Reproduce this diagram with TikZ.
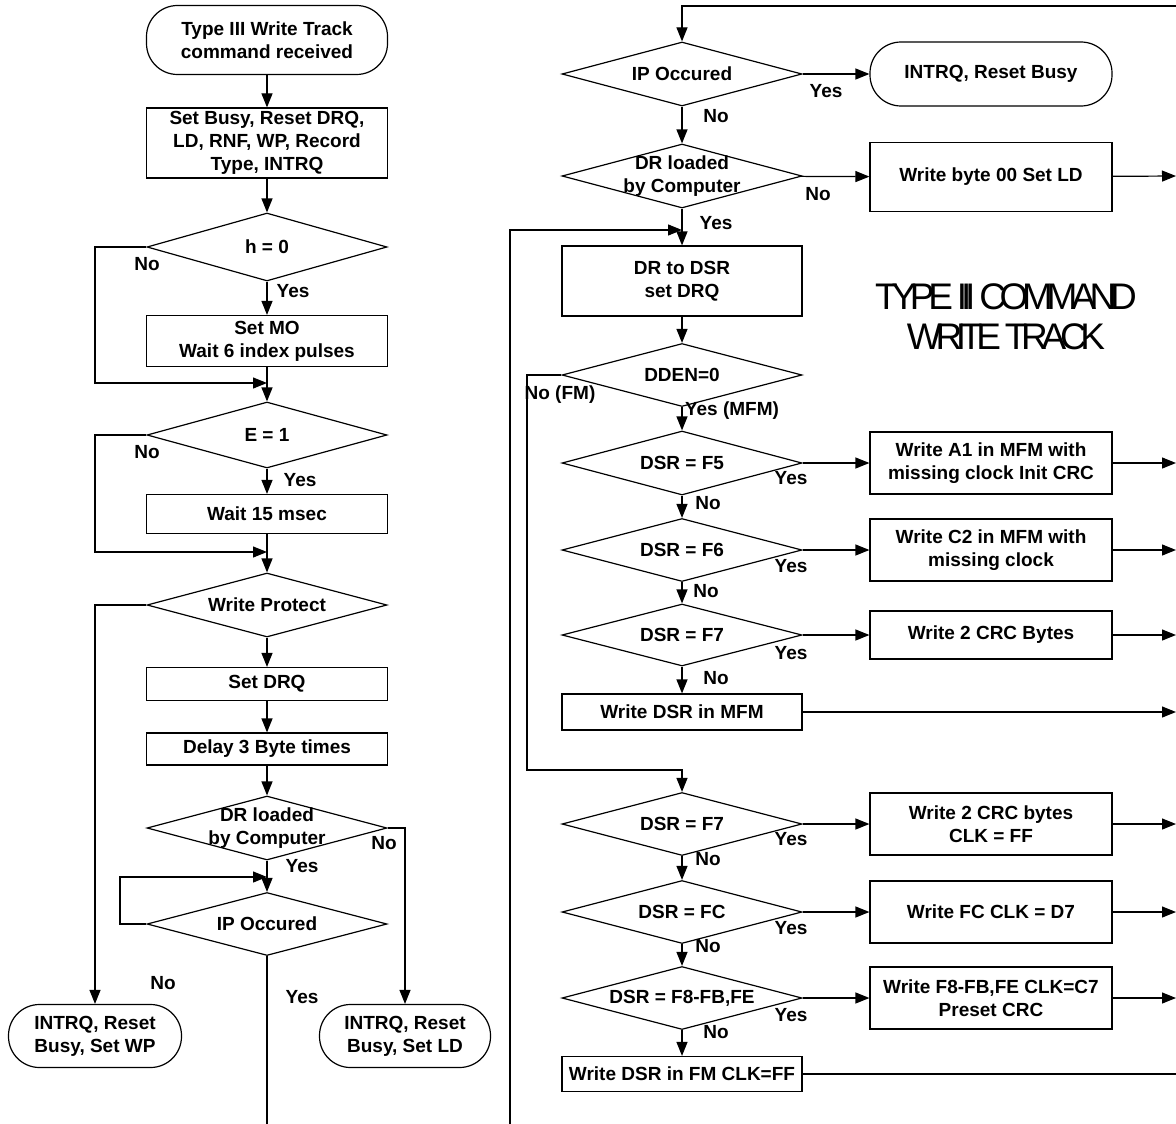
\documentclass[tikz,border=0pt]{standalone}
\usepackage{fontspec}
\setmainfont{Liberation Sans}
\usetikzlibrary{shapes.geometric,arrows.meta}
\tikzset{
  base/.style={draw=black, line width=1.2pt, align=center, inner sep=0pt, font=\bfseries\fontsize{19}{23}\selectfont},
  proc/.style={base, rectangle, minimum width=241pt},
  dec/.style={base, diamond, aspect=3.75, minimum width=240pt},
  dlab/.style={font=\bfseries\fontsize{19}{23}\selectfont, inner sep=0pt, align=center},
  term/.style={base, rectangle, rounded corners=31pt},
  lab/.style={font=\bfseries\fontsize{19}{23}\selectfont, inner sep=0pt},
  conn/.style={line width=1.2pt, draw=black},
  arr/.style={conn, -{Triangle[length=14pt,width=11pt]}},
}
\begin{document}
\begin{tikzpicture}[x=1pt,y=-1pt]
\useasboundingbox (0,0) rectangle (1176,1124);
% ---------- left column ----------
\node[term, minimum width=241pt, minimum height=69pt] (start) at (267,40) {Type III Write Track\\command received};
\node[proc, minimum height=70pt] (busy) at (267,143) {Set Busy, Reset DRQ,\\LD, RNF, WP, Record\\Type, INTRQ};
\node[dec, minimum height=68pt] (h0) at (267,247) {h = 0};
\node[proc, minimum height=51pt] (mo) at (267,341) {Set MO\\Wait 6 index pulses};
\node[dec, minimum height=66pt] (e1) at (267,435) {E = 1};
\node[proc, minimum height=39pt] (w15) at (267,514) {Wait 15 msec};
\node[dec, minimum height=64pt] (wp) at (267,605) {Write Protect};
\node[proc, minimum height=33pt] (drq) at (267,684) {Set DRQ};
\node[proc, minimum height=32pt] (delay) at (267,749) {Delay 3 Byte times};
\node[dec, minimum height=64pt, label={[dlab]center:DR loaded\\by Computer}] (drl) at (267,828) {};
\node[dec, minimum height=63pt] (ip1) at (267,924) {IP Occured};
\node[term, minimum width=173pt, minimum height=63pt] (t1) at (95,1036) {INTRQ, Reset\\Busy, Set WP};
\node[term, minimum width=171pt, minimum height=63pt] (t2) at (405,1036) {INTRQ, Reset\\Busy, Set LD};

\coordinate (j1) at (267,383);
\coordinate (j2) at (267,552);
\coordinate (j3) at (267,877);

\draw[arr] (start) -- (busy);
\draw[arr] (busy) -- (h0);
\draw[arr] (h0) -- (mo);
\draw[arr] (mo) -- (e1);
\draw[arr] (h0.west) -- (95,247) -- (95,383) -- (j1);
\draw[arr] (e1) -- (w15);
\draw[arr] (w15) -- (wp);
\draw[arr] (e1.west) -- (95,435) -- (95,552) -- (j2);
\draw[arr] (wp.west) -| (t1.north);
\draw[arr] (wp) -- (drq);
\draw[arr] (drq) -- (delay);
\draw[arr] (delay) -- (drl);
\draw[arr] (drl) -- (ip1);
\draw[arr] (ip1.west) -- (120,924) -- (120,877) -- (j3);
\draw[arr] (drl.east) -| (t2.north);

\node[lab] at (147,264) {No};
\node[lab] at (293,291) {Yes};
\node[lab] at (147,452) {No};
\node[lab] at (300,480) {Yes};
\node[lab] at (384,843) {No};
\node[lab] at (302,866) {Yes};
\node[lab] at (163,983) {No};
\node[lab] at (302,997) {Yes};

% ---------- right column ----------
\node[dec, minimum height=64pt] (ip2) at (682,74) {IP Occured};
\node[term, minimum width=242pt, minimum height=64pt] (tr) at (991,74) {INTRQ, Reset Busy};
\node[dec, minimum height=64pt, label={[dlab]center:DR loaded\\by Computer}] (drl2) at (682,176) {};
\node[proc, minimum width=242pt, minimum height=69pt] (wb) at (991,177) {Write byte 00 Set LD};
\node[proc, minimum width=240pt, minimum height=70pt] (dsr) at (682,281) {DR to DSR\\set DRQ};
\node[dec, minimum height=63pt] (dden) at (682,375) {DDEN=0};
\node[dec, minimum height=64pt] (f5) at (682,463) {DSR = F5};
\node[proc, minimum width=242pt, minimum height=62pt] (ba1) at (991,463) {Write A1 in MFM with\\missing clock Init CRC};
\node[dec, minimum height=63pt] (f6) at (682,550) {DSR = F6};
\node[proc, minimum width=242pt, minimum height=62pt] (bc2) at (991,550) {Write C2 in MFM with\\missing clock};
\node[dec, minimum height=62pt] (f7) at (682,635) {DSR = F7};
\node[proc, minimum width=242pt, minimum height=48pt] (bcrc) at (991,635) {Write 2 CRC Bytes};
\node[proc, minimum width=240pt, minimum height=36pt] (wmfm) at (682,712) {Write DSR in MFM};
\node[dec, minimum height=63pt] (f7b) at (682,824) {DSR = F7};
\node[proc, minimum width=242pt, minimum height=62pt] (bcrc2) at (991,824) {Write 2 CRC bytes\\CLK = FF};
\node[dec, minimum height=63pt] (fc) at (682,912) {DSR = FC};
\node[proc, minimum width=242pt, minimum height=62pt] (bfc) at (991,912) {Write FC CLK = D7};
\node[dec, minimum height=63pt] (f8) at (682,998) {DSR = F8-FB,FE};
\node[proc, minimum width=242pt, minimum height=62pt] (bf8) at (991,998) {Write F8-FB,FE CLK=C7\\Preset CRC};
\node[proc, minimum width=240pt, minimum height=35pt] (wfm) at (682,1074) {Write DSR in FM CLK=FF};

\node[font=\fontsize{37}{40}\selectfont\addfontfeature{LetterSpace=-17}, align=center, inner sep=0pt] (title) at (1006,317) {TYPE III COMMAND\\WRITE TRACK};

\coordinate (top) at (1180,6);
\coordinate (j4) at (682,230);
\coordinate (j5) at (682,770);
\coordinate (below) at (267,1140);
\coordinate (e1r) at (1176,176);
\coordinate (e2r) at (1176,463);
\coordinate (e3r) at (1176,550);
\coordinate (e4r) at (1176,635);
\coordinate (e5r) at (1176,712);
\coordinate (e6r) at (1176,824);
\coordinate (e7r) at (1176,912);
\coordinate (e8r) at (1176,998);
\coordinate (e9r) at (1180,1074);

\draw[arr] (top) -| (ip2.north);
\draw[arr] (ip2) -- (tr);
\draw[arr] (ip2) -- (drl2);
\draw[arr] (drl2) -- (wb);
\draw[arr] (wb) -- (e1r);
\draw[arr] (drl2) -- (dsr);
\draw[arr] (ip1.south) -- (below) -- (510,1140) -- (510,230) -- (j4);
\draw[arr] (dsr) -- (dden);
\draw[arr] (dden) -- (f5);
\draw[arr] (dden.west) -- (527,375) -- (527,770) -- (j5) -- (f7b.north);
\draw[arr] (f5) -- (f6);
\draw[arr] (f6) -- (f7);
\draw[arr] (f7) -- (wmfm);
\draw[arr] (f5) -- (ba1);
\draw[arr] (f6) -- (bc2);
\draw[arr] (f7) -- (bcrc);
\draw[arr] (ba1) -- (e2r);
\draw[arr] (bc2) -- (e3r);
\draw[arr] (bcrc) -- (e4r);
\draw[arr] (wmfm) -- (e5r);
\draw[arr] (f7b) -- (fc);
\draw[arr] (fc) -- (f8);
\draw[arr] (f8) -- (wfm);
\draw[arr] (f7b) -- (bcrc2);
\draw[arr] (fc) -- (bfc);
\draw[arr] (f8) -- (bf8);
\draw[arr] (bcrc2) -- (e6r);
\draw[arr] (bfc) -- (e7r);
\draw[arr] (bf8) -- (e8r);
\draw[conn] (wfm) -- (e9r);

\node[lab] at (826,91) {Yes};
\node[lab] at (716,116) {No};
\node[lab] at (818,194) {No};
\node[lab] at (716,223) {Yes};
\node[lab] at (560,395) {No (FM)};
\node[lab] at (732,411) {Yes (MFM)};
\node[lab] at (791,478) {Yes};
\node[lab] at (708,503) {No};
\node[lab] at (791,566) {Yes};
\node[lab] at (706,591) {No};
\node[lab] at (791,653) {Yes};
\node[lab] at (716,678) {No};
\node[lab] at (791,839) {Yes};
\node[lab] at (708,859) {No};
\node[lab] at (791,928) {Yes};
\node[lab] at (708,946) {No};
\node[lab] at (791,1015) {Yes};
\node[lab] at (716,1032) {No};
\end{tikzpicture}
\end{document}
